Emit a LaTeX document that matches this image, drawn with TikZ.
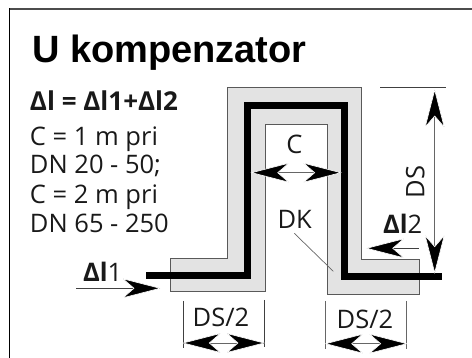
\documentclass[tikz,border=0pt]{standalone}
\usepackage{fontspec}
\setmainfont{Open Sans}
\newfontfamily\titlefont{Liberation Sans}
\tikzset{
  px/.style={x=1pt,y=-1pt},
  lbl/.style={inner sep=0pt,outer sep=0pt,anchor=base west,font=\fontsize{25.5}{30}\selectfont,text=black!90},
  boldlbl/.style={lbl,font=\fontsize{26}{30}\selectfont\bfseries},
  dimline/.style={draw=black!60,line width=0.7pt},
  extline/.style={draw=black!75,line width=0.7pt},
  headfill/.style={fill=black,draw=white,line width=0.6pt},
  pipe/.style={draw=black,line width=7pt,miter limit=10},
  shell/.style={draw=black!65,line width=0.9pt,fill=black!11}
}
% kite arrowhead: tip coordinate, direction angle of travel
\newcommand{\kitehead}[2]{%
  \path[headfill,shift={(#1)},rotate=#2]
    (0,0) -- (-37,-9.5) -- (-26,0) -- (-37,9.5) -- cycle;}
\begin{document}
\begin{tikzpicture}[px]
\useasboundingbox (0,0) rectangle (472,358);
\draw[draw=black!70,line width=1.1pt] (9,9) -- (472,9);
\draw[draw=black,line width=1.2pt] (9.5,358) -- (9.5,8.5);
\node[inner sep=0pt,anchor=base west] (title) at (32,62.3) {\titlefont\bfseries\fontsize{38}{42}\selectfont U kompenzator};
\node[boldlbl] (eq) at (30,111) {Δl = Δl1+Δl2};
\node[lbl] (t1) at (30,145.7) {C = 1 m pri};
\node[lbl] (t2) at (30,174) {DN 20 - 50;};
\node[lbl] (t3) at (30,204) {C = 2 m pri};
\node[lbl] (t4) at (30,232.7) {DN 65 - 250};
% insulation
\path[shell] (170.7,258.3) -- (227,258.3) -- (227,87.3) -- (361,87.3) -- (361,259.3) -- (419.7,259.3) -- (419.7,294) -- (327,294) -- (327,124) -- (265,124) -- (265,291.3) -- (170.7,291.3) -- cycle;
% pipe
\draw[pipe] (146,275.3) -- (247,275.3) -- (247,106) -- (344.7,106) -- (344.7,276.7) -- (441.7,276.7);
% DS
\coordinate (dsT) at (434.7,90); \coordinate (dsB) at (434.7,272.7);
\draw[extline] (380,87.3) -- (445.7,87.3);
\draw[dimline] (dsT) -- (dsB);
\kitehead{dsT}{90}\kitehead{dsB}{-90}
\node[lbl,anchor=base,rotate=90] (ds) at (424.3,182) {DS};
% C
\coordinate (cL) at (251.7,172.7); \coordinate (cR) at (340.7,172.7);
\draw[dimline] (cL) -- (cR);
\kitehead{cL}{180}\kitehead{cR}{0}
\node[lbl,anchor=base] (c) at (294.5,153.3) {C};
% DK
\node[lbl] (dk) at (277.5,229) {DK};
\coordinate (dkA) at (294.3,233.3); \coordinate (dkB) at (333.3,271.3);
\draw[dimline] (dkA) -- (dkB);
% dl2
\node[lbl] (dl2) at (383,233.3) {\textbf{Δl}2};
\coordinate (l2T) at (418.7,248.3); \coordinate (l2H) at (366.7,248.3);
\draw[extline] (l2T) -- (l2H);
\kitehead{l2H}{180}
% dl1
\node[lbl] (dl1) at (83,281.7) {\textbf{Δl}1};
\coordinate (l1T) at (76,288.3); \coordinate (l1H) at (160,288.3);
\draw[extline] (l1T) -- (l1H);
\kitehead{l1H}{0}
% DS/2 left
\draw[extline] (183.3,301) -- (183.3,348);
\draw[extline] (264.7,300) -- (264.7,347);
\coordinate (aL) at (183.3,343); \coordinate (aR) at (264,343);
\draw[dimline] (aL) -- (aR);
\kitehead{aL}{180}\kitehead{aR}{0}
\node[lbl,anchor=base] (dsa) at (221,327) {DS/2};
% DS/2 right
\draw[dimline] (325.7,301) -- (325.7,349);
\draw[dimline] (406.7,301) -- (406.7,349);
\coordinate (bL) at (325.7,343.7); \coordinate (bR) at (406.7,343.7);
\draw[dimline] (bL) -- (bR);
\kitehead{bL}{180}\kitehead{bR}{0}
\node[lbl,anchor=base] (dsb) at (365,329) {DS/2};
\end{tikzpicture}
\end{document}
